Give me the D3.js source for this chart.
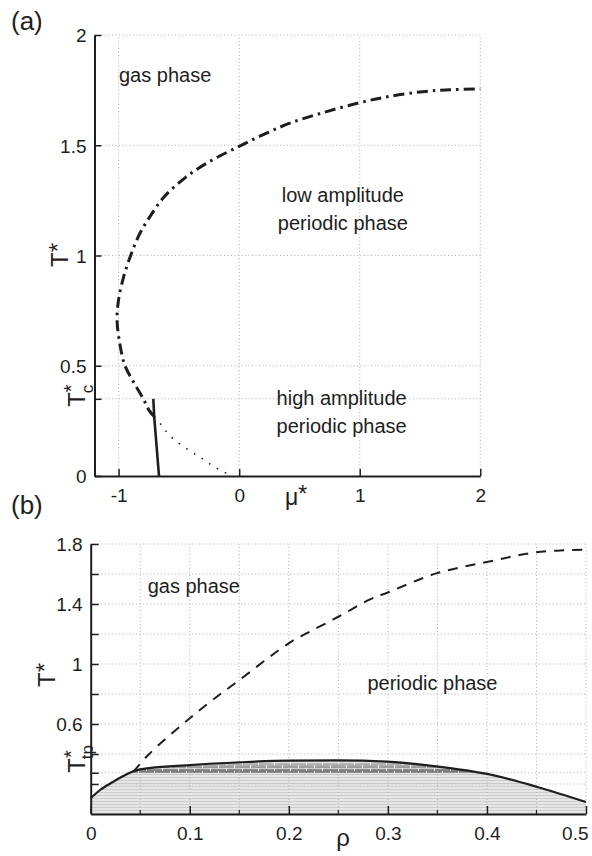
<!DOCTYPE html>
<html>
<head>
<meta charset="utf-8">
<script src="https://cdn.jsdelivr.net/npm/d3@7"></script>
<style>
  html, body { margin: 0; padding: 0; background: #fff; }
  svg { display: block; font-family: "Liberation Sans", Arial, sans-serif; }
</style>
</head>
<body>
<svg id="chart" width="592" height="856"></svg>
<script>
// ---------------- DATA ----------------
// Panel (a): T* vs mu*
const muTicks = [-1, 0, 1, 2];
const TTicksA = [0, 0.5, 1, 1.5, 2];
const TcA = 0.35;
// dash-dot line (low/high amplitude boundary, continuing to gas boundary)
const dashDotMu = [-0.705, -0.75, -0.795, -0.88, -0.947, -0.99, -1.013, -1.0, -0.96, -0.90, -0.824, -0.74, -0.629, -0.477, -0.34, -0.2, 0, 0.2, 0.42, 0.696, 1.0, 1.25, 1.524, 1.75, 2.0];
const dashDotT  = [0.27, 0.30, 0.35, 0.43, 0.50, 0.60, 0.707, 0.80, 0.90, 1.0, 1.10, 1.176, 1.262, 1.34, 1.395, 1.44, 1.495, 1.548, 1.60, 1.648, 1.693, 1.722, 1.743, 1.752, 1.755];
// dotted continuation (metastable)
const dottedMu = [-0.705, -0.657, -0.616, -0.55, -0.42, -0.31, -0.23, -0.15, -0.09];
const dottedT  = [0.27, 0.239, 0.209, 0.17, 0.118, 0.080, 0.050, 0.024, 0.009];
// solid first-order line
const solidMu = [-0.712, -0.705, -0.665];
const solidT  = [0.35, 0.27, 0.0];

// Panel (b): T* vs rho
const rhoTicks = [0, 0.1, 0.2, 0.3, 0.4, 0.5];
const rhoGrid = [0.05, 0.1, 0.15, 0.2, 0.25, 0.3, 0.35, 0.4, 0.45, 0.5];
const TTicksB = [0.2, 0.4, 0.6, 0.8, 1.0, 1.2, 1.4, 1.6, 1.8];
const TLabelsB = [0.6, 1, 1.4, 1.8];
const TtpB = 0.275;
const dashedRho = [0.043, 0.058, 0.0918, 0.1187, 0.15, 0.201, 0.221, 0.25, 0.282, 0.30, 0.349, 0.40, 0.45, 0.5];
const dashedT   = [0.28, 0.393, 0.593, 0.738, 0.893, 1.143, 1.215, 1.315, 1.431, 1.477, 1.604, 1.68, 1.745, 1.762];
const boundRho = [0, 0.0094, 0.0228, 0.0329, 0.043, 0.0498, 0.1, 0.151, 0.2, 0.25, 0.299, 0.351, 0.40, 0.45, 0.5];
const boundT   = [0.105, 0.16, 0.215, 0.253, 0.285, 0.298, 0.326, 0.345, 0.356, 0.357, 0.349, 0.316, 0.267, 0.182, 0.08];

// text labels (data coordinates)
const labelsA = [
  {lines: ["gas phase"], x: -0.997, y: 1.787, anchor: "start"},
  {lines: ["low amplitude", "periodic phase"], x: 0.86, y: 1.243, anchor: "middle"},
  {lines: ["high amplitude", "periodic phase"], x: 0.85, y: 0.322, anchor: "middle"}
];
const labelsB = [
  {lines: ["gas phase"], x: 0.0575, y: 1.475, anchor: "start"},
  {lines: ["periodic phase"], x: 0.345, y: 0.827, anchor: "middle"}
];

// ---------------- DRAW ----------------
const svg = d3.select("#chart");
const ink = "#1e1e1e";
const gridCol = "#b0b0b0";

const defs = svg.append("defs");
// stripes for the low region of panel b
const pat1 = defs.append("pattern").attr("id", "stripes").attr("patternUnits", "userSpaceOnUse")
  .attr("width", 8).attr("height", 3);
pat1.append("rect").attr("width", 8).attr("height", 3).attr("fill", "#e6e6e6");
pat1.append("rect").attr("width", 8).attr("height", 1).attr("fill", "#cdcdcd");
// coexistence band pattern
const grad = defs.append("linearGradient").attr("id", "coexGrad")
  .attr("gradientUnits", "userSpaceOnUse").attr("x1", 0).attr("x2", 0);
const pat2 = defs.append("pattern").attr("id", "bricks").attr("patternUnits", "userSpaceOnUse")
  .attr("width", 16).attr("height", 6);
pat2.append("rect").attr("y", 0).attr("width", 16).attr("height", 1).attr("fill", "#ffffff").attr("opacity", 0.55);
pat2.append("rect").attr("x", 2).attr("y", 0).attr("width", 1).attr("height", 3).attr("fill", "#ffffff").attr("opacity", 0.9);
pat2.append("rect").attr("x", 10).attr("y", 3).attr("width", 1).attr("height", 3).attr("fill", "#ffffff").attr("opacity", 0.9);

function fontText(sel, size) {
  return sel.attr("font-size", size).attr("fill", ink);
}

// ===== Panel (a) =====
const xA = d3.scaleLinear().domain([-1.2, 2]).range([94.5, 480.3]);
const yA = d3.scaleLinear().domain([0, 2]).range([476, 35]);
const gA = svg.append("g");

// grid
gA.append("g").selectAll("line").data(muTicks).join("line")
  .attr("x1", d => xA(d)).attr("x2", d => xA(d)).attr("y1", yA(0)).attr("y2", yA(2))
  .attr("stroke", gridCol).attr("stroke-width", 1).attr("stroke-dasharray", "1,2.5");
gA.append("g").selectAll("line").data(TTicksA.filter(d => d > 0).concat([TcA])).join("line")
  .attr("x1", xA(-1.2)).attr("x2", xA(2)).attr("y1", d => yA(d)).attr("y2", d => yA(d))
  .attr("stroke", gridCol).attr("stroke-width", 1).attr("stroke-dasharray", "1,2.5");

// curves
const lineA = (xs, ys, curve) => d3.line().x(d => xA(d[0])).y(d => yA(d[1])).curve(curve)(xs.map((v, i) => [v, ys[i]]));
gA.append("path").attr("d", lineA(dottedMu, dottedT, d3.curveCatmullRom.alpha(0.5)))
  .attr("fill", "none").attr("stroke", ink).attr("stroke-width", 1.6).attr("stroke-dasharray", "1.6,7.5");
gA.append("path").attr("d", lineA(dashDotMu, dashDotT, d3.curveCatmullRom.alpha(0.5)))
  .attr("fill", "none").attr("stroke", ink).attr("stroke-width", 3).attr("stroke-dasharray", "11,5,2.5,5");
gA.append("path").attr("d", lineA(solidMu, solidT, d3.curveLinear))
  .attr("fill", "none").attr("stroke", ink).attr("stroke-width", 2.6);

// axes
const axAx = d3.axisBottom(xA).tickValues(muTicks).tickSizeInner(-7).tickSizeOuter(0).tickPadding(8)
  .tickFormat(d => String(d));
const gax = gA.append("g").attr("transform", `translate(0,${yA(0)})`).call(axAx);
const ayAx = d3.axisLeft(yA).tickValues(TTicksA.concat([TcA])).tickSizeInner(-7).tickSizeOuter(0).tickPadding(8)
  .tickFormat(d => d === TcA ? "" : String(d));
const gay = gA.append("g").attr("transform", `translate(${xA(-1.2)},0)`).call(ayAx);
[gax, gay].forEach(g => {
  g.select(".domain").attr("stroke", ink).attr("stroke-width", 2);
  g.selectAll(".tick line").attr("stroke", ink).attr("stroke-width", 1.5);
  g.selectAll(".tick text").attr("font-size", 19).attr("fill", ink).attr("font-family", "Liberation Sans, Arial, sans-serif");
});
gax.selectAll(".tick text").attr("dy", "0.95em");
gay.selectAll(".tick text").attr("dy", "0.36em");

// Tc label (rotated)
const tc = fontText(gA.append("text"), 24).attr("transform", `translate(85,${yA(TcA) + 8}) rotate(-90)`);
tc.append("tspan").text("T");
tc.append("tspan").attr("font-size", 20).attr("dy", -7).text("*");
tc.append("tspan").attr("font-size", 17).attr("dx", -9).attr("dy", 15).text("c");
// axis labels
const tyA = fontText(gA.append("text"), 24).attr("transform", `translate(68,255) rotate(-90)`).attr("text-anchor", "middle");
tyA.append("tspan").text("T");
tyA.append("tspan").attr("dy", -2).text("*");
const txA = fontText(gA.append("text"), 23).attr("x", 296).attr("y", 505).attr("text-anchor", "middle");
txA.append("tspan").text("μ");
txA.append("tspan").attr("dy", -3).text("*");

// phase labels
labelsA.forEach(l => {
  const t = fontText(gA.append("text"), 20).attr("text-anchor", l.anchor);
  l.lines.forEach((s, i) => t.append("tspan").attr("x", xA(l.x)).attr("y", yA(l.y) + i * 28).text(s));
});
fontText(svg.append("text"), 26).attr("x", 11).attr("y", 30).text("(a)");

// ===== Panel (b) =====
const xB = d3.scaleLinear().domain([0, 0.5]).range([90.7, 586]);
const yB = d3.scaleLinear().domain([0, 1.8]).range([814, 544]);
const gB = svg.append("g");
const bPts = boundRho.map((v, i) => [v, boundT[i]]);

grad.attr("y1", yB(TtpB)).attr("y2", yB(0.36));
grad.append("stop").attr("offset", "0%").attr("stop-color", "#6c6c6c");
grad.append("stop").attr("offset", "35%").attr("stop-color", "#979797");
grad.append("stop").attr("offset", "100%").attr("stop-color", "#cfcfcf");

// fills
const areaB = d3.area().x(d => xB(d[0])).y0(yB(0)).y1(d => yB(d[1])).curve(d3.curveMonotoneX);
gB.append("path").attr("d", areaB(bPts)).attr("fill", "url(#stripes)");
defs.append("clipPath").attr("id", "underCurve").append("path").attr("d", areaB(bPts));
const coex = gB.append("g").attr("clip-path", "url(#underCurve)");
coex.append("rect").attr("x", xB(0)).attr("width", xB(0.5) - xB(0))
  .attr("y", yB(0.4)).attr("height", yB(TtpB) - yB(0.4)).attr("fill", "url(#coexGrad)");
coex.append("rect").attr("x", xB(0)).attr("width", xB(0.5) - xB(0))
  .attr("y", yB(0.4)).attr("height", yB(TtpB) - yB(0.4)).attr("fill", "url(#bricks)");

// grid
gB.append("g").selectAll("line").data(rhoGrid).join("line")
  .attr("x1", d => xB(d)).attr("x2", d => xB(d)).attr("y1", yB(0)).attr("y2", yB(1.8))
  .attr("stroke", gridCol).attr("stroke-width", 1).attr("stroke-dasharray", "1,2.5");
gB.append("g").selectAll("line").data(TTicksB.concat([TtpB])).join("line")
  .attr("x1", xB(0)).attr("x2", xB(0.5)).attr("y1", d => yB(d)).attr("y2", d => yB(d))
  .attr("stroke", gridCol).attr("stroke-width", 1).attr("stroke-dasharray", "1,2.5");

// curves
gB.append("path").attr("d", d3.line().x(d => xB(d[0])).y(d => yB(d[1])).curve(d3.curveMonotoneX)(bPts))
  .attr("fill", "none").attr("stroke", ink).attr("stroke-width", 2.2);
gB.append("path").attr("d", d3.line().x(d => xB(d[0])).y(d => yB(d[1])).curve(d3.curveCatmullRom.alpha(0.5))(dashedRho.map((v, i) => [v, dashedT[i]])))
  .attr("fill", "none").attr("stroke", ink).attr("stroke-width", 2).attr("stroke-dasharray", "10,8");

// axes
const bxAx = d3.axisBottom(xB).tickValues(rhoTicks).tickSizeInner(-8).tickSizeOuter(0).tickPadding(8)
  .tickFormat(d => String(d));
const gbx = gB.append("g").attr("transform", `translate(0,${yB(0)})`).call(bxAx);
gB.append("g").selectAll("line").data(rhoGrid.filter(d => rhoTicks.indexOf(d) < 0)).join("line")
  .attr("x1", d => xB(d)).attr("x2", d => xB(d)).attr("y1", yB(0)).attr("y2", yB(0) - 4)
  .attr("stroke", ink).attr("stroke-width", 1.2);
const byAx = d3.axisLeft(yB).tickValues(TTicksB.concat([TtpB])).tickSizeInner(-8).tickSizeOuter(0).tickPadding(8)
  .tickFormat(d => TLabelsB.indexOf(d) >= 0 ? String(d) : "");
const gby = gB.append("g").attr("transform", `translate(${xB(0)},0)`).call(byAx);
[gbx, gby].forEach(g => {
  g.select(".domain").attr("stroke", ink).attr("stroke-width", 2);
  g.selectAll(".tick line").attr("stroke", ink).attr("stroke-width", 1.5);
  g.selectAll(".tick text").attr("font-size", 19).attr("fill", ink).attr("font-family", "Liberation Sans, Arial, sans-serif");
});
gbx.selectAll(".tick text").attr("dy", "0.95em");
// last rho label kept inside the figure (right-aligned at its tick)
gbx.selectAll(".tick text").filter(d => d === 0.5).attr("text-anchor", "end").attr("x", 2);
gby.selectAll(".tick text").attr("dy", "0.36em");

const tp = fontText(gB.append("text"), 24).attr("transform", `translate(85,${yB(TtpB)}) rotate(-90)`);
tp.append("tspan").text("T");
tp.append("tspan").attr("font-size", 20).attr("dy", -7).text("*");
tp.append("tspan").attr("font-size", 17).attr("dx", -9).attr("dy", 15).text("tp");

const tyB = fontText(gB.append("text"), 24).attr("transform", `translate(55,675) rotate(-90)`).attr("text-anchor", "middle");
tyB.append("tspan").text("T");
tyB.append("tspan").attr("dy", -2).text("*");
fontText(gB.append("text"), 24).attr("x", 343).attr("y", 846).attr("text-anchor", "middle").text("ρ");

labelsB.forEach(l => {
  const t = fontText(gB.append("text"), 20).attr("text-anchor", l.anchor);
  l.lines.forEach((s, i) => t.append("tspan").attr("x", xB(l.x)).attr("y", yB(l.y) + i * 28).text(s));
});
fontText(svg.append("text"), 26).attr("x", 11).attr("y", 514).text("(b)");
</script>
</body>
</html>
